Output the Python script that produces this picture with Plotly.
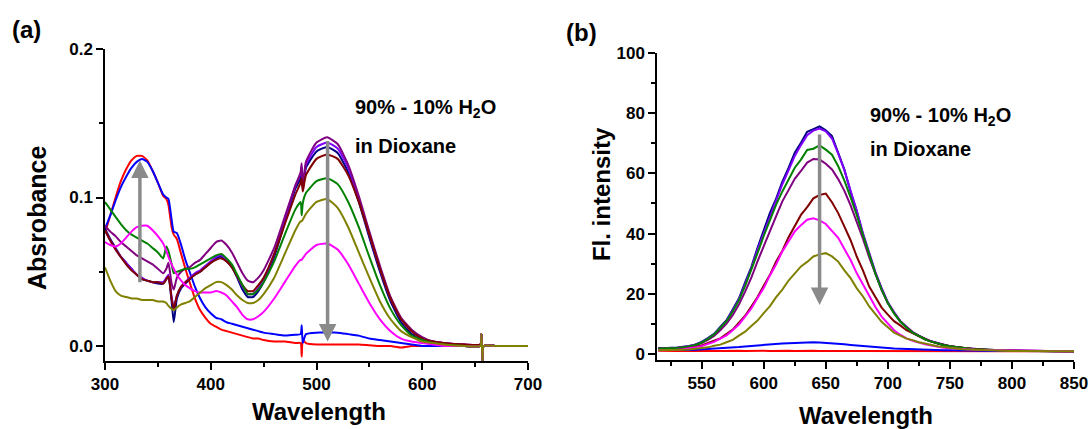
import plotly.graph_objects as go

# ---------------- Panel (a): UV-vis absorbance ----------------
wl_abs = [300, 305, 310, 315, 320, 325, 330, 335, 340, 345, 350, 355, 358, 360, 363, 365, 368, 372, 376,
          380, 385, 390, 395, 400, 405, 410, 415, 420, 425, 430, 435, 440, 445, 450, 460, 470, 480,
          485, 486, 487, 490, 500, 510, 520, 530, 540, 550, 560, 570, 580, 590, 600, 610, 620,
          640, 655, 656, 657, 658, 670, 685, 700]

abs_red = [0.076, 0.088, 0.100, 0.111, 0.119, 0.125, 0.128, 0.128, 0.125, 0.118, 0.110, 0.101, 0.099, 0.095, 0.080, 0.075, 0.072, 0.062, 0.052,
           0.043, 0.032, 0.024, 0.019, 0.015, 0.013, 0.011, 0.010, 0.009, 0.008, 0.007, 0.006, 0.005, 0.005, 0.004, 0.003, 0.003, 0.002,
           0.002, -0.007, 0.004, 0.002, 0.001, 0.001, 0.001, 0.001, 0.001, 0.0005, 0.000, 0.000, -0.001, 0.000, 0.000, 0.000, 0.000,
           0.000, 0.000, 0.008, -0.010, 0.000, 0.000, 0.000, 0.000]
abs_blue = [0.079, 0.088, 0.098, 0.107, 0.114, 0.120, 0.124, 0.126, 0.124, 0.118, 0.110, 0.102, 0.100, 0.099, 0.085, 0.077, 0.076, 0.068, 0.058,
            0.050, 0.040, 0.032, 0.026, 0.022, 0.019, 0.018, 0.016, 0.015, 0.014, 0.013, 0.012, 0.011, 0.010, 0.009, 0.008, 0.007, 0.0075,
            0.008, 0.014, 0.002, 0.008, 0.009, 0.009, 0.009, 0.008, 0.007, 0.005, 0.004, 0.003, 0.002, 0.001, 0.000, 0.000, 0.000,
            0.000, 0.000, 0.008, -0.010, 0.000, 0.000, 0.000, 0.000]
abs_navy = [0.079, 0.072, 0.066, 0.060, 0.056, 0.052, 0.048, 0.045, 0.044, 0.043, 0.042, 0.042, 0.045, 0.047, 0.030, 0.016, 0.032, 0.039, 0.042,
            0.045, 0.048, 0.050, 0.053, 0.056, 0.059, 0.060, 0.057, 0.053, 0.046, 0.038, 0.033, 0.033, 0.037, 0.043, 0.060, 0.083, 0.106,
            0.113, 0.120, 0.105, 0.120, 0.131, 0.134, 0.130, 0.117, 0.097, 0.073, 0.050, 0.030, 0.016, 0.008, 0.004, 0.002, 0.001,
            0.000, 0.000, 0.008, -0.010, 0.000, 0.000, 0.000, 0.000]
abs_violet = [0.078, 0.071, 0.065, 0.060, 0.056, 0.052, 0.048, 0.046, 0.044, 0.043, 0.043, 0.043, 0.046, 0.048, 0.033, 0.026, 0.034, 0.040, 0.043,
              0.046, 0.049, 0.051, 0.054, 0.057, 0.060, 0.061, 0.058, 0.054, 0.047, 0.040, 0.035, 0.035, 0.039, 0.045, 0.062, 0.085, 0.108,
              0.116, 0.121, 0.107, 0.122, 0.134, 0.137, 0.133, 0.120, 0.099, 0.075, 0.052, 0.032, 0.018, 0.010, 0.005, 0.003, 0.002,
              0.001, 0.001, 0.008, -0.010, 0.000, 0.000, 0.000, 0.000]
abs_purple = [0.081, 0.077, 0.074, 0.070, 0.067, 0.064, 0.061, 0.059, 0.057, 0.055, 0.052, 0.049, 0.052, 0.056, 0.042, 0.038, 0.046, 0.050, 0.052,
              0.053, 0.056, 0.058, 0.062, 0.066, 0.070, 0.071, 0.068, 0.063, 0.056, 0.049, 0.044, 0.043, 0.046, 0.051, 0.066, 0.087, 0.108,
              0.117, 0.123, 0.106, 0.124, 0.137, 0.1405, 0.136, 0.122, 0.101, 0.077, 0.054, 0.033, 0.019, 0.011, 0.006, 0.003, 0.002,
              0.001, 0.001, 0.008, -0.010, 0.000, 0.000, 0.000, 0.000]
abs_maroon = [0.078, 0.071, 0.065, 0.060, 0.055, 0.051, 0.048, 0.045, 0.044, 0.043, 0.043, 0.042, 0.045, 0.047, 0.032, 0.025, 0.034, 0.040, 0.043,
              0.045, 0.048, 0.050, 0.053, 0.056, 0.058, 0.059, 0.057, 0.053, 0.047, 0.041, 0.037, 0.037, 0.041, 0.046, 0.062, 0.082, 0.102,
              0.110, 0.113, 0.104, 0.115, 0.126, 0.129, 0.126, 0.115, 0.097, 0.075, 0.052, 0.032, 0.018, 0.010, 0.005, 0.003, 0.002,
              0.001, 0.001, 0.008, -0.010, 0.000, 0.000, 0.000, 0.000]
abs_green = [0.097, 0.092, 0.087, 0.082, 0.078, 0.075, 0.073, 0.071, 0.069, 0.066, 0.063, 0.059, 0.067, 0.064, 0.055, 0.049, 0.050, 0.051, 0.052,
             0.052, 0.053, 0.055, 0.057, 0.059, 0.061, 0.062, 0.059, 0.055, 0.048, 0.041, 0.035, 0.035, 0.038, 0.043, 0.057, 0.075, 0.092,
             0.097, 0.088, 0.096, 0.103, 0.111, 0.113, 0.109, 0.097, 0.080, 0.060, 0.041, 0.025, 0.014, 0.007, 0.004, 0.002, 0.001,
             0.000, 0.000, 0.008, -0.010, 0.000, 0.000, 0.000, 0.000]
abs_magenta = [0.070, 0.068, 0.067, 0.069, 0.073, 0.077, 0.080, 0.081, 0.081, 0.078, 0.074, 0.069, 0.064, 0.060, 0.055, 0.052, 0.048, 0.044, 0.041,
               0.039, 0.037, 0.036, 0.036, 0.036, 0.037, 0.036, 0.034, 0.030, 0.026, 0.021, 0.018, 0.018, 0.020, 0.023, 0.032, 0.043, 0.054,
               0.058, 0.058, 0.059, 0.062, 0.068, 0.069, 0.065, 0.055, 0.042, 0.029, 0.018, 0.010, 0.005, 0.003, 0.002, 0.001, 0.000,
               0.000, 0.000, 0.008, -0.010, 0.000, 0.000, 0.000, 0.000]
abs_olive = [0.053, 0.044, 0.037, 0.034, 0.033, 0.032, 0.032, 0.031, 0.031, 0.031, 0.030, 0.030, 0.029, 0.027, 0.025, 0.024, 0.026, 0.028, 0.029,
             0.030, 0.033, 0.036, 0.039, 0.041, 0.043, 0.043, 0.041, 0.038, 0.034, 0.031, 0.029, 0.029, 0.031, 0.035, 0.046, 0.062, 0.078,
             0.084, 0.084, 0.085, 0.089, 0.097, 0.099, 0.093, 0.080, 0.063, 0.046, 0.030, 0.018, 0.010, 0.006, 0.003, 0.002, 0.001,
             0.000, 0.000, 0.008, -0.010, 0.000, 0.000, 0.000, 0.000]

# ---------------- Panel (b): fluorescence ----------------
wl_fl = [515, 520, 525, 530, 535, 540, 545, 550, 555, 560, 565, 570, 575, 580, 585, 590, 595, 600,
         605, 610, 615, 620, 625, 630, 635, 640, 645, 650, 655, 660, 665, 670, 675, 680, 685, 690,
         695, 700, 705, 710, 715, 720, 725, 730, 735, 740, 745, 750, 760, 770, 780, 790, 800, 810,
         820, 830, 840, 850]

fl_red = [1.1, 1.0, 1.1, 1.0, 1.0, 1.1, 1.0, 1.0, 1.1, 1.0, 1.0, 1.1, 1.0, 1.1, 1.0, 1.1, 1.0, 1.1,
          1.0, 1.1, 1.0, 1.1, 1.0, 1.1, 1.0, 1.1, 1.0, 1.1, 1.0, 1.0, 1.1, 1.0, 1.0, 1.0, 1.0, 0.9,
          1.0, 0.9, 0.9, 0.9, 0.9, 0.9, 0.9, 0.9, 0.9, 0.9, 0.9, 0.9, 0.9, 0.9, 0.9, 0.9, 0.9, 0.9,
          0.9, 0.9, 0.9, 0.9]
fl_blue = [1.6, 1.5, 1.4, 1.3, 1.3, 1.3, 1.4, 1.5, 1.6, 1.7, 1.8, 1.9, 2.1, 2.3, 2.5, 2.7, 2.9, 3.1,
           3.3, 3.4, 3.5, 3.6, 3.7, 3.8, 3.8, 3.9, 3.8, 3.7, 3.6, 3.4, 3.2, 3.0, 2.8, 2.6, 2.4, 2.2,
           2.0, 1.9, 1.8, 1.7, 1.6, 1.5, 1.4, 1.4, 1.3, 1.3, 1.2, 1.2, 1.1, 1.1, 1.0, 1.0, 1.0, 1.0,
           0.9, 0.9, 0.9, 0.9]
fl_navy = [2.0, 1.9, 2.1, 2.1, 2.4, 2.6, 3.2, 4.0, 5.3, 6.7, 9.0, 11.2, 14.8, 18.4, 23.8, 28.9, 35.3, 40.8,
           46.9, 51.6, 57.3, 61.8, 66.9, 70.2, 73.8, 74.7, 75.6, 74.3, 72.4, 66.8, 61.3, 53.8, 47.4, 39.6, 33.2, 26.8,
           21.7, 16.9, 13.7, 10.8, 8.9, 7.1, 6.0, 4.9, 4.2, 3.5, 3.0, 2.6, 2.0, 1.6, 1.4, 1.2, 1.1, 1.0,
           1.0, 0.9, 0.9, 0.9]
fl_violet = [1.9, 1.9, 2.0, 2.1, 2.3, 2.6, 3.1, 3.9, 5.1, 6.6, 8.7, 11.0, 14.4, 18.1, 23.2, 28.4, 34.6, 40.1,
             46.0, 50.9, 56.4, 61.0, 65.8, 69.4, 72.7, 74.2, 74.9, 74.0, 71.6, 66.6, 61.0, 54.2, 47.6, 40.1, 33.5, 27.2,
             21.9, 17.2, 13.9, 11.0, 9.0, 7.3, 6.1, 5.0, 4.2, 3.6, 3.0, 2.6, 2.0, 1.6, 1.4, 1.2, 1.1, 1.0,
             1.0, 0.9, 0.9, 0.9]
fl_green = [1.8, 1.8, 1.9, 2.0, 2.2, 2.5, 3.0, 3.8, 5.0, 6.5, 8.6, 10.9, 14.1, 17.8, 22.6, 27.9, 33.5, 39.2,
            44.4, 49.6, 54.0, 58.2, 61.9, 64.6, 67.8, 68.2, 69.3, 67.9, 66.2, 62.4, 57.6, 52.0, 46.1, 39.4, 32.9, 26.7,
            21.4, 16.9, 13.5, 10.8, 8.8, 7.1, 6.0, 4.9, 4.1, 3.5, 3.0, 2.6, 2.0, 1.6, 1.4, 1.2, 1.1, 1.0,
            1.0, 0.9, 0.9, 0.9]
fl_purple = [1.8, 1.8, 1.9, 2.0, 2.2, 2.4, 2.9, 3.6, 4.7, 6.0, 7.9, 10.1, 12.9, 16.4, 20.7, 25.4, 30.8, 35.9,
             41.2, 45.8, 50.7, 54.3, 58.2, 60.8, 63.6, 64.8, 64.6, 63.2, 61.3, 58.1, 54.2, 49.4, 44.1, 38.2, 32.1, 26.3,
             21.2, 16.9, 13.6, 10.9, 8.9, 7.2, 6.0, 5.0, 4.2, 3.5, 3.0, 2.6, 2.0, 1.6, 1.4, 1.2, 1.1, 1.0,
             1.0, 0.9, 0.9, 0.9]
fl_maroon = [1.5, 1.5, 1.6, 1.7, 1.8, 2.0, 2.4, 2.8, 3.5, 4.4, 5.2, 6.6, 8.1, 10.4, 12.7, 15.8, 18.9, 22.7,
             26.3, 30.7, 34.3, 38.8, 42.3, 46.2, 48.8, 51.7, 52.8, 53.3, 50.4, 46.8, 42.3, 37.8, 32.3, 27.7, 22.4, 18.7,
             15.4, 13.1, 10.9, 9.5, 7.9, 6.9, 5.8, 4.9, 4.1, 3.5, 3.0, 2.6, 2.0, 1.6, 1.4, 1.2, 1.1, 1.0,
             1.0, 0.9, 0.9, 0.9]
fl_magenta = [1.2, 1.2, 1.3, 1.4, 1.6, 1.8, 2.2, 2.6, 3.3, 4.0, 5.1, 6.2, 7.9, 9.8, 12.4, 15.1, 18.6, 21.9,
              26.1, 29.8, 34.1, 37.4, 40.7, 42.8, 44.6, 45.1, 44.4, 43.2, 40.9, 38.6, 34.9, 31.2, 26.8, 23.1, 18.9, 15.6,
              12.4, 10.1, 7.9, 6.4, 5.2, 4.4, 3.7, 3.2, 2.8, 2.4, 2.1, 1.9, 1.6, 1.4, 1.3, 1.2, 1.1, 1.0,
              1.0, 0.9, 0.9, 0.9]
fl_olive = [1.2, 1.2, 1.2, 1.3, 1.4, 1.5, 1.7, 1.9, 2.2, 2.7, 3.1, 3.9, 4.7, 6.1, 7.4, 9.3, 11.1, 13.6,
            15.9, 18.9, 21.4, 24.4, 26.7, 29.1, 30.6, 32.4, 33.1, 33.5, 32.4, 30.7, 27.8, 25.2, 21.8, 19.1, 15.8, 13.3,
            10.7, 8.9, 7.1, 6.1, 5.1, 4.6, 3.9, 3.5, 3.0, 2.6, 2.3, 2.0, 1.6, 1.4, 1.2, 1.1, 1.0, 1.0,
            0.9, 0.9, 0.9, 0.9]

# series: (absorbance, fluorescence, colour) in drawing order
series = [
    (abs_red, fl_red, "#FF0000"),
    (abs_blue, fl_blue, "#0000FF"),
    (abs_navy, fl_navy, "#000080"),
    (abs_violet, fl_violet, "#8000FF"),
    (abs_purple, fl_purple, "#800080"),
    (abs_maroon, fl_maroon, "#800000"),
    (abs_green, fl_green, "#008000"),
    (abs_magenta, fl_magenta, "#FF00FF"),
    (abs_olive, fl_olive, "#808000"),
]

W, H = 1091, 429
FONT = "Liberation Sans, Arial, Helvetica, sans-serif"

fig = go.Figure()
for a_vals, f_vals, col in series:
    fig.add_trace(go.Scatter(x=wl_abs, y=a_vals, mode="lines", xaxis="x", yaxis="y",
                             line=dict(color=col, width=2, shape="spline", smoothing=0.5),
                             showlegend=False, hoverinfo="skip"))
    fig.add_trace(go.Scatter(x=wl_fl, y=f_vals, mode="lines", xaxis="x2", yaxis="y2",
                             line=dict(color=col, width=2),
                             showlegend=False, hoverinfo="skip"))

tickfont = dict(family=FONT, size=17, color="black")


def axis(**kw):
    base = dict(showline=True, linecolor="black", linewidth=1.5, ticks="outside", ticklen=7,
                tickwidth=1.5, tickcolor="black", showgrid=False, zeroline=False, mirror=False,
                tickfont=tickfont, tickprefix="<b>", ticksuffix="</b>", fixedrange=True,
                automargin=False)
    base.update(kw)
    return base


def minor(step):
    return dict(ticks="outside", ticklen=4, tickwidth=1.5, tickcolor="black", dtick=step, showgrid=False)


fig.update_layout(
    width=W, height=H, autosize=False,
    margin=dict(l=0, r=0, t=0, b=0),
    paper_bgcolor="white", plot_bgcolor="white",
    xaxis=axis(domain=[105 / W, 528 / W], range=[300, 700], dtick=100, tick0=0,
               anchor="y", minor=minor(50)),
    yaxis=axis(domain=[1 - 361 / H, 1 - 49 / H], range=[-0.0101, 0.2], dtick=0.1, tick0=0,
               tickformat=".1f", anchor="x", minor=minor(0.05)),
    xaxis2=axis(domain=[657 / W, 1074 / W], range=[514, 850], dtick=50, tick0=0,
                anchor="y2", minor=minor(25)),
    yaxis2=axis(domain=[1 - 360 / H, 1 - 53 / H], range=[-2, 100], dtick=20, tick0=0,
                anchor="x2", minor=minor(10)),
)

ARROW = "#8a8a8a"


def arrow(xr, yr, x, y0, y1):
    return dict(xref=xr, yref=yr, axref=xr, ayref=yr, x=x, y=y1, ax=x, ay=y0,
                text="", showarrow=True, arrowhead=2, arrowsize=1, arrowwidth=3.5,
                arrowcolor=ARROW, standoff=0, startstandoff=0)


def label(text, x, y, size, xanchor="center", angle=0):
    return dict(xref="paper", yref="paper", x=x, y=y, text=text, showarrow=False,
                xanchor=xanchor, yanchor="middle", textangle=angle,
                font=dict(family=FONT, size=size, color="black", weight="bold"))


annotations = [
    arrow("x", "y", 333, 0.042, 0.125),
    arrow("x", "y", 510.5, 0.139, 0.003),
    arrow("x2", "y2", 645, 73.4, 16.3),
    label("(a)", 26 / W, 1 - 30 / H, 24),
    label("(b)", 581 / W, 1 - 32 / H, 24),
    label("Wavelength", 319 / W, 1 - 411.6 / H, 24),
    label("Wavelength", 866 / W, 1 - 415.6 / H, 24),
    label("Absrobance", 36.6 / W, 1 - 217.5 / H, 25, angle=-90),
    label("Fl. intensity", 601.6 / W, 1 - 194.5 / H, 24, angle=-90),
    label("90% - 10% H<sub>2</sub>O", 353 / W, 1 - 108 / H, 20, xanchor="left"),
    label("in Dioxane", 353 / W, 1 - 146 / H, 20, xanchor="left"),
    label("90% - 10% H<sub>2</sub>O", 868 / W, 1 - 117 / H, 20, xanchor="left"),
    label("in Dioxane", 868 / W, 1 - 149 / H, 20, xanchor="left"),
]
fig.update_layout(annotations=annotations)

fig.write_html("out.html")
